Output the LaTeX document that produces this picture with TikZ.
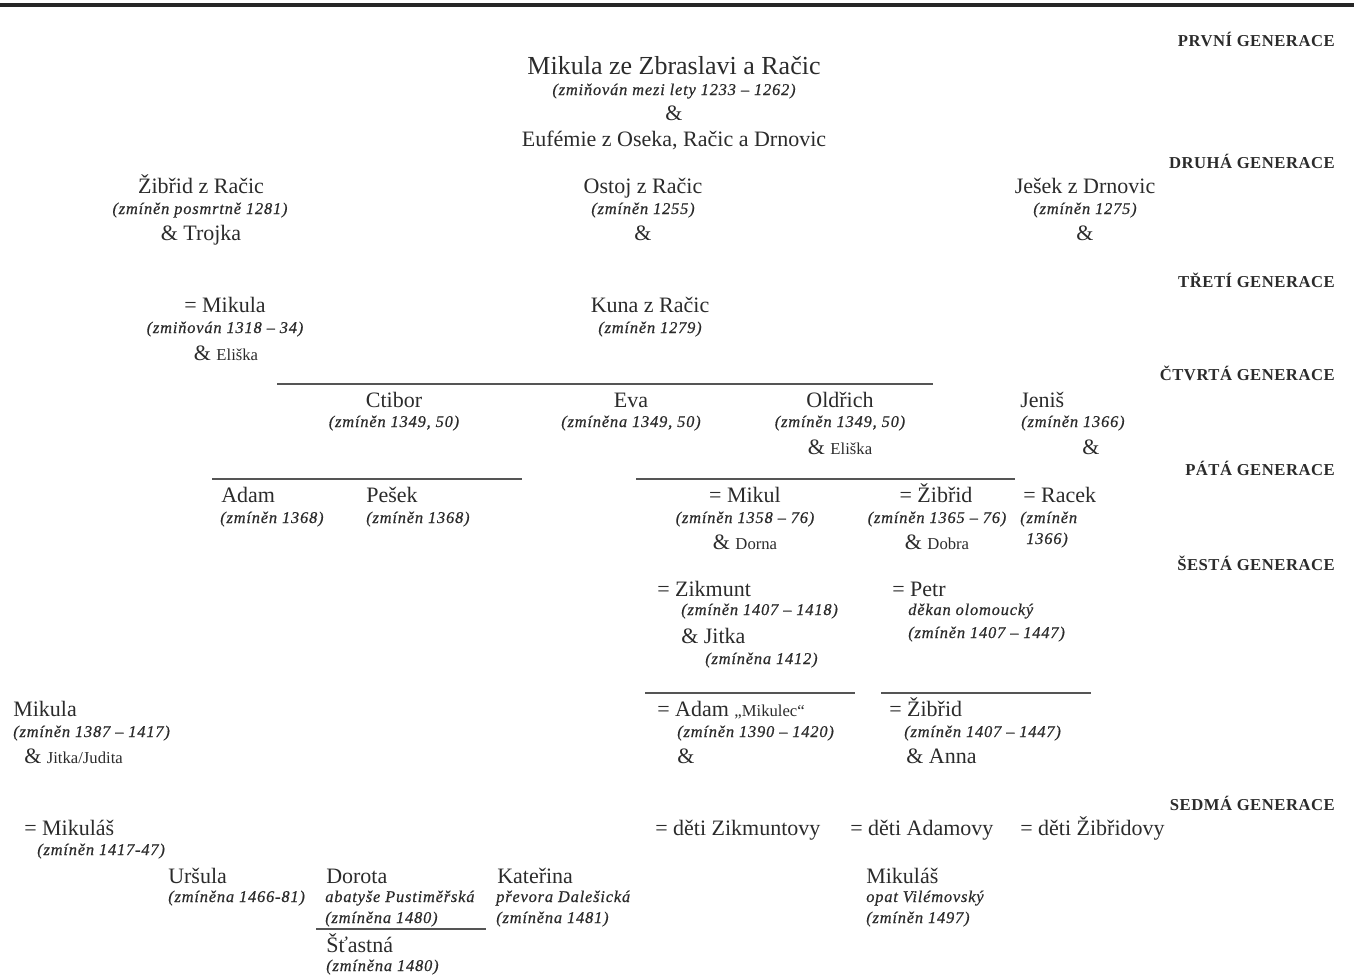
\documentclass[tikz,border=0pt]{standalone}
\usepackage{fontspec}
\setmainfont{Liberation Serif}
\newfontfamily\datefont[LetterSpace=5,FakeBold=0.6]{Liberation Serif}
\newfontfamily\genfont[LetterSpace=3]{Liberation Serif}
\definecolor{txt}{HTML}{2B2B2B}
\definecolor{rulec}{HTML}{555555}
\newcommand{\smn}[1]{{\fontsize{12.5}{14}\selectfont #1}}
\begin{document}
\begin{tikzpicture}[x=0.75pt,y=-0.75pt,
  every node/.style={inner sep=0pt, text=txt},
  nm/.style={font=\fontsize{16.5}{18}\selectfont},
  big/.style={font=\fontsize{19.5}{22}\selectfont},
  dt/.style={font=\datefont\itshape\fontsize{12.3}{14}\selectfont},
  gen/.style={font=\genfont\bfseries\fontsize{12.5}{14}\selectfont, anchor=base east},
  rule/.style={draw=rulec, line width=1pt}]
\useasboundingbox (0,0) rectangle (1354,975);
% top bar
\coordinate (barL) at (0,5);
\coordinate (barR) at (1354,5);
\draw[line width=2.6pt, black!85] (barL) -- (barR);

% generation labels
\node[gen] (g1) at (1335,46) {PRVNÍ GENERACE};
\node[gen] (g2) at (1335,168) {DRUHÁ GENERACE};
\node[gen] (g3) at (1335,287) {TŘETÍ GENERACE};
\node[gen] (g4) at (1335,380) {ČTVRTÁ GENERACE};
\node[gen] (g5) at (1335,475) {PÁTÁ GENERACE};
\node[gen] (g6) at (1335,570) {ŠESTÁ GENERACE};
\node[gen] (g7) at (1335,810) {SEDMÁ GENERACE};

% first generation
\node[big, anchor=base] (t1) at (674,74) {Mikula ze Zbraslavi a Račic};
\node[dt, anchor=base] (t1d) at (674,95) {(zmiňován mezi lety 1233 – 1262)};
\node[nm, anchor=base] (t1a) at (674,120) {\&};
\node[nm, anchor=base] (t1s) at (674,146) {Eufémie z Oseka, Račic a Drnovic};

% second generation
\node[nm, anchor=base] (zr) at (201,193) {Žibřid z Račic};
\node[dt, anchor=base] (zrd) at (200,214) {(zmíněn posmrtně 1281)};
\node[nm, anchor=base] (zrs) at (201,240) {\& Trojka};
\node[nm, anchor=base] (os) at (643,193) {Ostoj z Račic};
\node[dt, anchor=base] (osd) at (643,214) {(zmíněn 1255)};
\node[nm, anchor=base] (oss) at (643,240) {\&};
\node[nm, anchor=base] (je) at (1085,193) {Ješek z Drnovic};
\node[dt, anchor=base] (jed) at (1085,214) {(zmíněn 1275)};
\node[nm, anchor=base] (jes) at (1085,240) {\&};

% third generation
\node[nm, anchor=base] (mi) at (225,312) {= Mikula};
\node[dt, anchor=base] (mid) at (225,333) {(zmiňován 1318 – 34)};
\node[nm, anchor=base] (mis) at (226,360) {\& \smn{Eliška}};
\node[nm, anchor=base] (ku) at (650,312) {Kuna z Račic};
\node[dt, anchor=base] (kud) at (650,333) {(zmíněn 1279)};

% fourth generation
\coordinate (l4a) at (277,384);
\coordinate (l4b) at (933,384);
\draw[rule] (l4a) -- (l4b);
\node[nm, anchor=base] (ct) at (394,407) {Ctibor};
\node[dt, anchor=base] (ctd) at (394,427) {(zmíněn 1349, 50)};
\node[nm, anchor=base] (ev) at (631,407) {Eva};
\node[dt, anchor=base] (evd) at (631,427) {(zmíněna 1349, 50)};
\node[nm, anchor=base] (ol) at (840,407) {Oldřich};
\node[dt, anchor=base] (old) at (840,427) {(zmíněn 1349, 50)};
\node[nm, anchor=base] (ols) at (840,454) {\& \smn{Eliška}};
\node[nm, anchor=base west] (jn) at (1020,407) {Jeniš};
\node[dt, anchor=base west] (jnd) at (1021,427) {(zmíněn 1366)};
\node[nm, anchor=base] (jns) at (1091,454) {\&};

% fifth generation
\coordinate (l5a) at (212,479);
\coordinate (l5b) at (522,479);
\draw[rule] (l5a) -- (l5b);
\coordinate (l5c) at (636,479);
\coordinate (l5d) at (1015,479);
\draw[rule] (l5c) -- (l5d);
\node[nm, anchor=base west] (ad) at (221,502) {Adam};
\node[dt, anchor=base west] (add) at (220,523) {(zmíněn 1368)};
\node[nm, anchor=base west] (pe) at (366,502) {Pešek};
\node[dt, anchor=base west] (ped) at (366,523) {(zmíněn 1368)};
\node[nm, anchor=base] (mk) at (745,502) {= Mikul};
\node[dt, anchor=base] (mkd) at (745,523) {(zmíněn 1358 – 76)};
\node[nm, anchor=base] (mks) at (745,549) {\& \smn{Dorna}};
\node[nm, anchor=base] (zb) at (936,502) {= Žibřid};
\node[dt, anchor=base] (zbd) at (937,523) {(zmíněn 1365 – 76)};
\node[nm, anchor=base] (zbs) at (937,549) {\& \smn{Dobra}};
\node[nm, anchor=base west] (ra) at (1023,502) {= Racek};
\node[dt, anchor=base west] (rad) at (1020,523) {(zmíněn};
\node[dt, anchor=base west] (rad2) at (1026,544) {1366)};

% sixth generation
\node[nm, anchor=base west] (zk) at (657,596) {= Zikmunt};
\node[dt, anchor=base west] (zkd) at (681,615) {(zmíněn 1407 – 1418)};
\node[nm, anchor=base west] (zks) at (681,643) {\& Jitka};
\node[dt, anchor=base west] (zksd) at (705,664) {(zmíněna 1412)};
\node[nm, anchor=base west] (pt) at (892,596) {= Petr};
\node[dt, anchor=base west] (ptr) at (908,615) {děkan olomoucký};
\node[dt, anchor=base west] (ptd) at (908,638) {(zmíněn 1407 – 1447)};
\coordinate (l6a) at (645,693);
\coordinate (l6b) at (855,693);
\draw[rule] (l6a) -- (l6b);
\coordinate (l6c) at (881,693);
\coordinate (l6d) at (1091,693);
\draw[rule] (l6c) -- (l6d);
\node[nm, anchor=base west] (am) at (657,716) {= Adam \smn{„Mikulec“}};
\node[dt, anchor=base west] (amd) at (677,737) {(zmíněn 1390 – 1420)};
\node[nm, anchor=base west] (ams) at (677,763) {\&};
\node[nm, anchor=base west] (z2) at (889,716) {= Žibřid};
\node[dt, anchor=base west] (z2d) at (904,737) {(zmíněn 1407 – 1447)};
\node[nm, anchor=base west] (z2s) at (906,763) {\& Anna};
\node[nm, anchor=base west] (m2) at (13,716) {Mikula};
\node[dt, anchor=base west] (m2d) at (13,737) {(zmíněn 1387 – 1417)};
\node[nm, anchor=base west] (m2s) at (24,763) {\& \smn{Jitka/Judita}};

% seventh generation
\node[nm, anchor=base west] (ms) at (24,835) {= Mikuláš};
\node[dt, anchor=base west] (msd) at (37,855) {(zmíněn 1417-47)};
\node[nm, anchor=base west] (dz) at (655,835) {= děti Zikmuntovy};
\node[nm, anchor=base west] (da) at (850,835) {= děti Adamovy};
\node[nm, anchor=base west] (dzb) at (1020,835) {= děti Žibřidovy};
\node[nm, anchor=base west] (ur) at (168,883) {Uršula};
\node[dt, anchor=base west] (urd) at (168,902) {(zmíněna 1466-81)};
\node[nm, anchor=base west] (do) at (326,883) {Dorota};
\node[dt, anchor=base west] (dor) at (325,902) {abatyše Pustiměřská};
\node[dt, anchor=base west] (dod) at (325,923) {(zmíněna 1480)};
\coordinate (l7a) at (316,929);
\coordinate (l7b) at (486,929);
\draw[rule] (l7a) -- (l7b);
\node[nm, anchor=base west] (st) at (326,952) {Šťastná};
\node[dt, anchor=base west] (std) at (326,971) {(zmíněna 1480)};
\node[nm, anchor=base west] (ka) at (497,883) {Kateřina};
\node[dt, anchor=base west] (kar) at (496,902) {převora Dalešická};
\node[dt, anchor=base west] (kad) at (496,923) {(zmíněna 1481)};
\node[nm, anchor=base west] (mo) at (866,883) {Mikuláš};
\node[dt, anchor=base west] (mor) at (866,902) {opat Vilémovský};
\node[dt, anchor=base west] (mod) at (866,923) {(zmíněn 1497)};
\end{tikzpicture}
\end{document}
